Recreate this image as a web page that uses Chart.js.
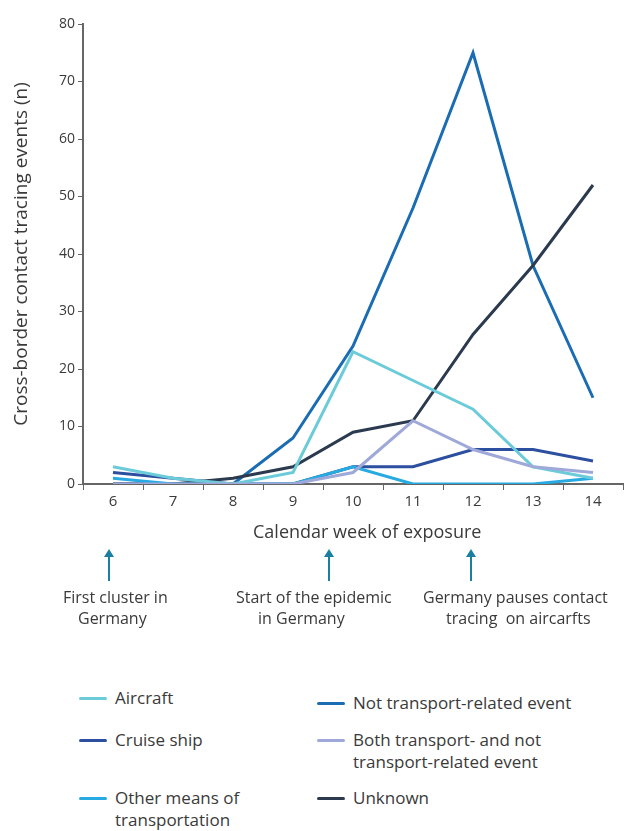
<!DOCTYPE html>
<html lang="en">
  <head>
    <meta charset="UTF-8" />
    <title>Cross-border contact tracing events</title>
    <script src="https://cdn.jsdelivr.net/npm/chart.js"></script>
    <style>
      body { margin: 0; background: #fff; font-family: "Open Sans", sans-serif; color: #3a3a3a; }
      #wrap { position: relative; width: 624px; height: 831px; }
      #chartBox { position: absolute; left: 0; top: 0; width: 624px; height: 550px; }
      #xTitle { position: absolute; left: 253px; top: 519px; font-size: 18px; line-height: 24px; white-space: nowrap; }
      .note { position: absolute; font-size: 16px; line-height: 21px; white-space: pre; }
      .arrow { position: absolute; width: 2px; background: #1a7fa0; height: 25px; top: 556px; }
      .arrow::before { content: ""; position: absolute; left: -4px; top: -7px; border-left: 5px solid transparent; border-right: 5px solid transparent; border-bottom: 8px solid #1a7fa0; }
      .leg { position: absolute; font-size: 17px; line-height: 22px; }
      .leg span.sw { position: absolute; left: -36px; top: 10px; width: 28px; height: 3px; border-radius: 2px; }
    </style>
  </head>
  <body>
    <div id="wrap">
      <div id="chartBox"><canvas id="chart"></canvas></div>
      <div id="xTitle">Calendar week of exposure</div>
      <div id="notes"></div>
      <div id="legend"></div>
    </div>

    <script>
      const weeks = ["6", "7", "8", "9", "10", "11", "12", "13", "14"];
      const aircraft = [3, 1, 0, 2, 23, 18, 13, 3, 1];
      const cruiseShip = [2, 1, 0, 0, 3, 3, 6, 6, 4];
      const otherMeans = [1, 0, 0, 0, 3, 0, 0, 0, 1];
      const notTransport = [0, 0, 0, 8, 24, 48, 75, 38, 15];
      const bothTransport = [0, 0, 0, 0, 2, 11, 6, 3, 2];
      const unknown = [0, 0, 1, 3, 9, 11, 26, 38, 52];

      const series = [
        { label: "Aircraft", data: aircraft, color: "#6ccbd9", lines: ["Aircraft"], x: 115, y: 687 },
        { label: "Cruise ship", data: cruiseShip, color: "#2d4fa0", lines: ["Cruise ship"], x: 115, y: 729 },
        { label: "Other means of transportation", data: otherMeans, color: "#27a9e1", lines: ["Other means of", "transportation"], x: 115, y: 787 },
        { label: "Not transport-related event", data: notTransport, color: "#1b6db3", lines: ["Not transport-related event"], x: 353, y: 692 },
        { label: "Both transport- and not transport-related event", data: bothTransport, color: "#9fa9d9", lines: ["Both transport- and not", "transport-related event"], x: 353, y: 729 },
        { label: "Unknown", data: unknown, color: "#2b3a4e", lines: ["Unknown"], x: 353, y: 787 },
      ];

      // draw order: light lines first, main ones on top
      const drawOrder = [4, 0, 2, 1, 5, 3];

      const notes = [
        { x: 109, lines: [["First cluster in", 63], ["Germany", 78]] },
        { x: 329, lines: [["Start of the epidemic", 236], ["in Germany", 258]] },
        { x: 471, lines: [["Germany pauses contact", 423], ["tracing  on aircarfts", 446]] },
      ];

      const notesEl = document.getElementById("notes");
      notes.forEach((n) => {
        const a = document.createElement("div");
        a.className = "arrow";
        a.style.left = n.x - 1 + "px";
        notesEl.appendChild(a);
        n.lines.forEach((l, i) => {
          const t = document.createElement("div");
          t.className = "note";
          t.style.left = l[1] + "px";
          t.style.top = 587 + i * 21 + "px";
          t.textContent = l[0];
          notesEl.appendChild(t);
        });
      });

      const legendEl = document.getElementById("legend");
      series.forEach((s) => {
        const d = document.createElement("div");
        d.className = "leg";
        d.style.left = s.x + "px";
        d.style.top = s.y + "px";
        d.innerHTML = '<span class="sw" style="background:' + s.color + '"></span>' + s.lines.join("<br>");
        legendEl.appendChild(d);
      });

      const font = "'Open Sans'";

      new Chart(document.getElementById("chart"), {
        type: "line",
        data: {
          labels: weeks,
          datasets: drawOrder.map((i) => ({
            label: series[i].label,
            data: series[i].data,
            borderColor: series[i].color,
            backgroundColor: series[i].color,
            borderWidth: 3,
            pointRadius: 0,
            tension: 0,
          })),
        },
        options: {
          responsive: true,
          maintainAspectRatio: false,
          animation: false,
          layout: { padding: { top: 24, right: 1, left: 2, bottom: 4 } },
          plugins: { legend: { display: false }, tooltip: { enabled: false } },
          scales: {
            x: {
              offset: true,
              afterFit: (scale) => { scale.height = 62; },
              grid: { drawOnChartArea: false, offset: true, tickLength: 6, color: "#666" },
              border: { color: "#666", width: 2 },
              ticks: { color: "#3a3a3a", font: { family: font, size: 15 }, padding: 3 },
            },
            y: {
              min: 0,
              max: 80,
              afterFit: (scale) => { scale.width = 81; },
              ticks: { stepSize: 10, color: "#3a3a3a", font: { family: font, size: 14 }, padding: 3 },
              grid: { drawOnChartArea: false, tickLength: 5, color: "#666" },
              border: { color: "#666", width: 2 },
              title: { display: true, text: "Cross-border contact tracing events (n)", color: "#3a3a3a", font: { family: font, size: 19 }, padding: { top: 8, bottom: 4 } },
            },
          },
        },
      });
    </script>
  </body>
</html>
